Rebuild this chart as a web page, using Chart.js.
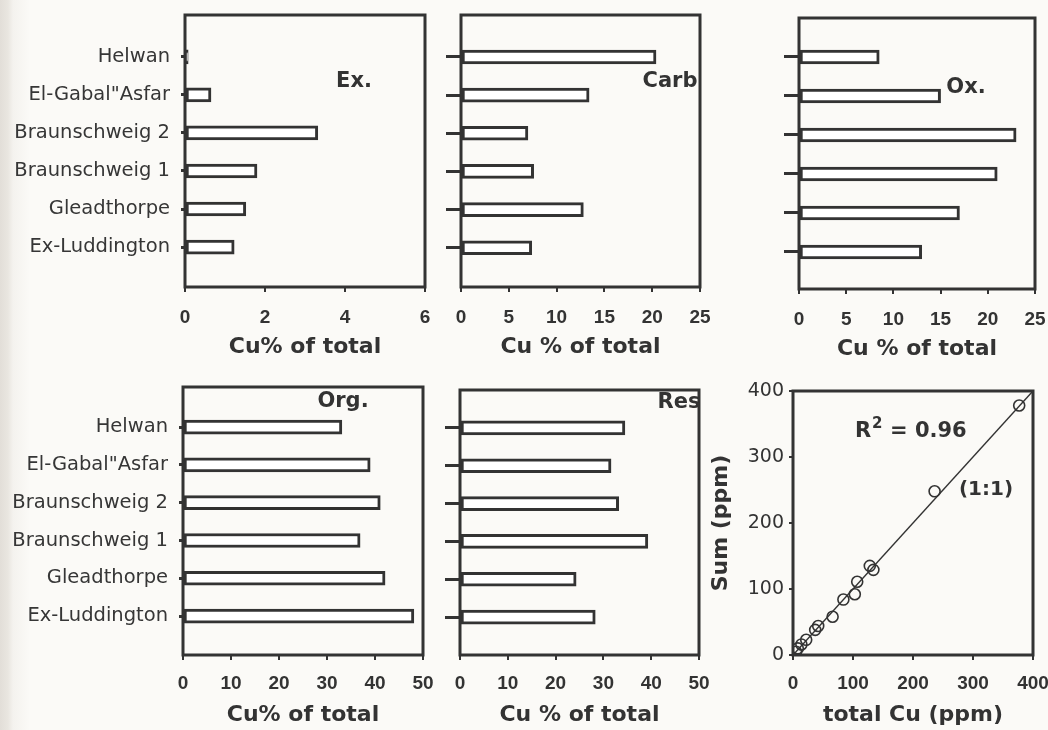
<!DOCTYPE html>
<html>
<head>
<meta charset="utf-8">
<script src="https://cdn.jsdelivr.net/npm/chart.js@4.4.1/dist/chart.umd.min.js"></script>
<style>
html,body{margin:0;padding:0;}
body{width:1048px;height:730px;position:relative;overflow:hidden;
background:linear-gradient(to right,#e2ded8 0px,#e9e6e0 8px,#f4f2ee 13px,#fbfaf7 30px,#fbfaf7 100%);}
canvas{position:absolute;left:0;top:0;}
</style>
</head>
<body>
<canvas id="cEx" width="1048" height="730"></canvas>
<canvas id="cCarb" width="1048" height="730"></canvas>
<canvas id="cOx" width="1048" height="730"></canvas>
<canvas id="cOrg" width="1048" height="730"></canvas>
<canvas id="cRes" width="1048" height="730"></canvas>
<canvas id="cSum" width="1048" height="730"></canvas>
<script>
// ---------- data ----------
const categories = ['Helwan', 'El-Gabal"Asfar', 'Braunschweig 2', 'Braunschweig 1', 'Gleadthorpe', 'Ex-Luddington'];
const exchangeable = [0.08, 0.65, 3.32, 1.8, 1.52, 1.23];
const carbonate    = [20.4, 13.4, 7.0, 7.6, 12.8, 7.4];
const oxide        = [8.5, 15.0, 23.0, 21.0, 17.0, 13.0];
const organic      = [33.1, 39.0, 41.1, 36.9, 42.1, 48.1];
const residual     = [34.5, 31.6, 33.2, 39.3, 24.3, 28.3];
const totalCu      = [5, 8, 14, 22, 37, 42, 66, 84, 103, 107, 128, 134, 236, 377];
const sumFractions = [5, 10, 16, 23, 38, 44, 58, 84, 92, 111, 135, 129, 248, 378];
const oneToOne     = [0, 400];

// ---------- style ----------
const INK = '#333333';
const LABF = 'DejaVu Sans';
const TICKF = 'Liberation Sans';
const TITLEF = 'DejaVu Sans';

const extras = {
  id: 'extras',
  afterDatasetsDraw(chart, args, opts) {
    const ctx = chart.ctx, a = chart.chartArea;
    ctx.save();
    ctx.strokeStyle = INK; ctx.lineWidth = 3;
    ctx.strokeRect(a.left, a.top, a.right - a.left, a.bottom - a.top);
    (opts.texts || []).forEach(t => {
      ctx.font = t.font; ctx.fillStyle = INK;
      ctx.textAlign = t.align || 'center'; ctx.textBaseline = 'middle';
      ctx.fillText(t.text, a.left + t.dx, a.top + t.dy);
    });
    ctx.restore();
  }
};

function noPad(s) { s.paddingLeft = 0; s.paddingRight = 0; s.paddingTop = 0; s.paddingBottom = 0; }

function pad(box, W, H) {
  return { left: box.l - W, right: 1048 - box.r, top: box.t, bottom: 730 - box.b - H };
}

function xAxis(max, step, title, H, tpad) {
  return {
    type: 'linear', position: 'bottom', min: 0, max: max,
    ticks: { stepSize: step, color: INK, padding: tpad, maxRotation: 0, autoSkip: false,
             font: { family: TICKF, size: 19, weight: 'bold' } },
    grid: { drawOnChartArea: false, drawTicks: true, tickLength: 5, lineWidth: 2, color: INK },
    border: { display: false },
    title: { display: true, text: title, color: INK, padding: 0,
             font: { family: TITLEF, size: 22, weight: 'bold' } },
    afterFit(s) { s.height = H; noPad(s); }
  };
}

function yAxis(min, max, showLabels, W, tl) {
  return {
    type: 'linear', position: 'left', reverse: true, min: min, max: max, offset: false,
    afterBuildTicks(s) { s.ticks = categories.map((c, i) => ({ value: i })); },
    ticks: { display: showLabels, autoSkip: false, padding: 11, color: '#363636',
             font: { family: LABF, size: 19.5 },
             callback: (v) => (categories[v] !== undefined ? categories[v] : '') },
    grid: { drawOnChartArea: false, offset: false, drawTicks: true, tickLength: tl,
            lineWidth: 3, color: INK },
    border: { display: false },
    afterFit(s) { s.width = W; noPad(s); }
  };
}

function barChart(id, vals, box, yr, xmax, xstep, xtitle, showLabels, texts) {
  const W = showLabels ? box.l : 16;
  const tl = showLabels ? 4 : 15;
  const H = 73;
  return new Chart(document.getElementById(id), {
    type: 'bar',
    data: {
      datasets: [{
        data: vals.map((v, i) => ({ x: v, y: i })),
        backgroundColor: '#ffffff', borderColor: INK, borderWidth: 3,
        barThickness: 14, borderSkipped: false
      }]
    },
    options: {
      indexAxis: 'y', responsive: false, animation: false, devicePixelRatio: 1,
      layout: { padding: pad(box, W, H) },
      plugins: { legend: { display: false }, tooltip: { enabled: false }, extras: { texts: texts } },
      scales: {
        x: xAxis(xmax, xstep, xtitle, H, box.b > 400 ? 12 : 14),
        y: yAxis(yr[0], yr[1], showLabels, W, tl)
      }
    },
    plugins: [extras]
  });
}

const PF = 'bold 21px "DejaVu Sans"';

barChart('cEx', exchangeable, { l: 185, r: 425, t: 15, b: 287 }, [-1.1, 6.05], 6, 2, 'Cu% of total', true,
  [{ text: 'Ex.', dx: 169, dy: 67, font: PF }]);
barChart('cCarb', carbonate, { l: 461, r: 700, t: 15, b: 287 }, [-1.1, 6.03], 25, 5, 'Cu % of total', false,
  [{ text: 'Carb', dx: 209, dy: 67, font: PF }]);
barChart('cOx', oxide, { l: 799, r: 1035, t: 18, b: 289 }, [-1.0, 5.95], 25, 5, 'Cu % of total', false,
  [{ text: 'Ox.', dx: 167, dy: 70, font: PF }]);
barChart('cOrg', organic, { l: 183, r: 423, t: 387, b: 655 }, [-1.06, 6.03], 50, 10, 'Cu% of total', true,
  [{ text: 'Org.', dx: 160, dy: 15, font: PF }]);
barChart('cRes', residual, { l: 460, r: 699, t: 390, b: 655 }, [-1.0, 6.0], 50, 10, 'Cu % of total', false,
  [{ text: 'Res', dx: 219, dy: 13, font: PF }]);

// ---------- scatter ----------
(function () {
  const box = { l: 793, r: 1033, t: 391, b: 655 };
  const W = 85, H = 73;
  new Chart(document.getElementById('cSum'), {
    type: 'scatter',
    data: {
      datasets: [
        {
          data: oneToOne.map(v => ({ x: v, y: v })),
          showLine: true, borderColor: INK, borderWidth: 1.5, pointRadius: 0, fill: false
        },
        {
          data: totalCu.map((v, i) => ({ x: v, y: sumFractions[i] })),
          pointRadius: 5.5, pointBorderWidth: 1.6, pointBorderColor: INK,
          pointBackgroundColor: 'rgba(0,0,0,0)', showLine: false
        }
      ]
    },
    options: {
      responsive: false, animation: false, devicePixelRatio: 1,
      layout: { padding: pad(box, W, H) },
      plugins: {
        legend: { display: false }, tooltip: { enabled: false },
        extras: {
          texts: [
            { text: 'R', dx: 62, dy: 41, font: 'bold 21px "DejaVu Sans"', align: 'left' },
            { text: '2', dx: 79, dy: 33, font: 'bold 15px "DejaVu Sans"', align: 'left' },
            { text: '= 0.96', dx: 97, dy: 41, font: 'bold 21px "DejaVu Sans"', align: 'left' },
            { text: '(1:1)', dx: 193, dy: 99, font: 'bold 20px "DejaVu Sans"' }
          ]
        }
      },
      scales: {
        x: xAxis(400, 100, 'total Cu (ppm)', H, 12),
        y: {
          type: 'linear', position: 'left', min: 0, max: 400,
          ticks: { stepSize: 100, padding: 5, color: INK, font: { family: LABF, size: 19 } },
          grid: { drawOnChartArea: false, drawTicks: true, tickLength: 4, lineWidth: 2, color: INK },
          border: { display: false },
          title: { display: true, text: 'Sum (ppm)', color: INK, padding: 0,
                   font: { family: TITLEF, size: 22, weight: 'bold' } },
          afterFit(s) { s.width = W; noPad(s); }
        }
      }
    },
    plugins: [extras]
  });
})();
</script>
</body>
</html>
